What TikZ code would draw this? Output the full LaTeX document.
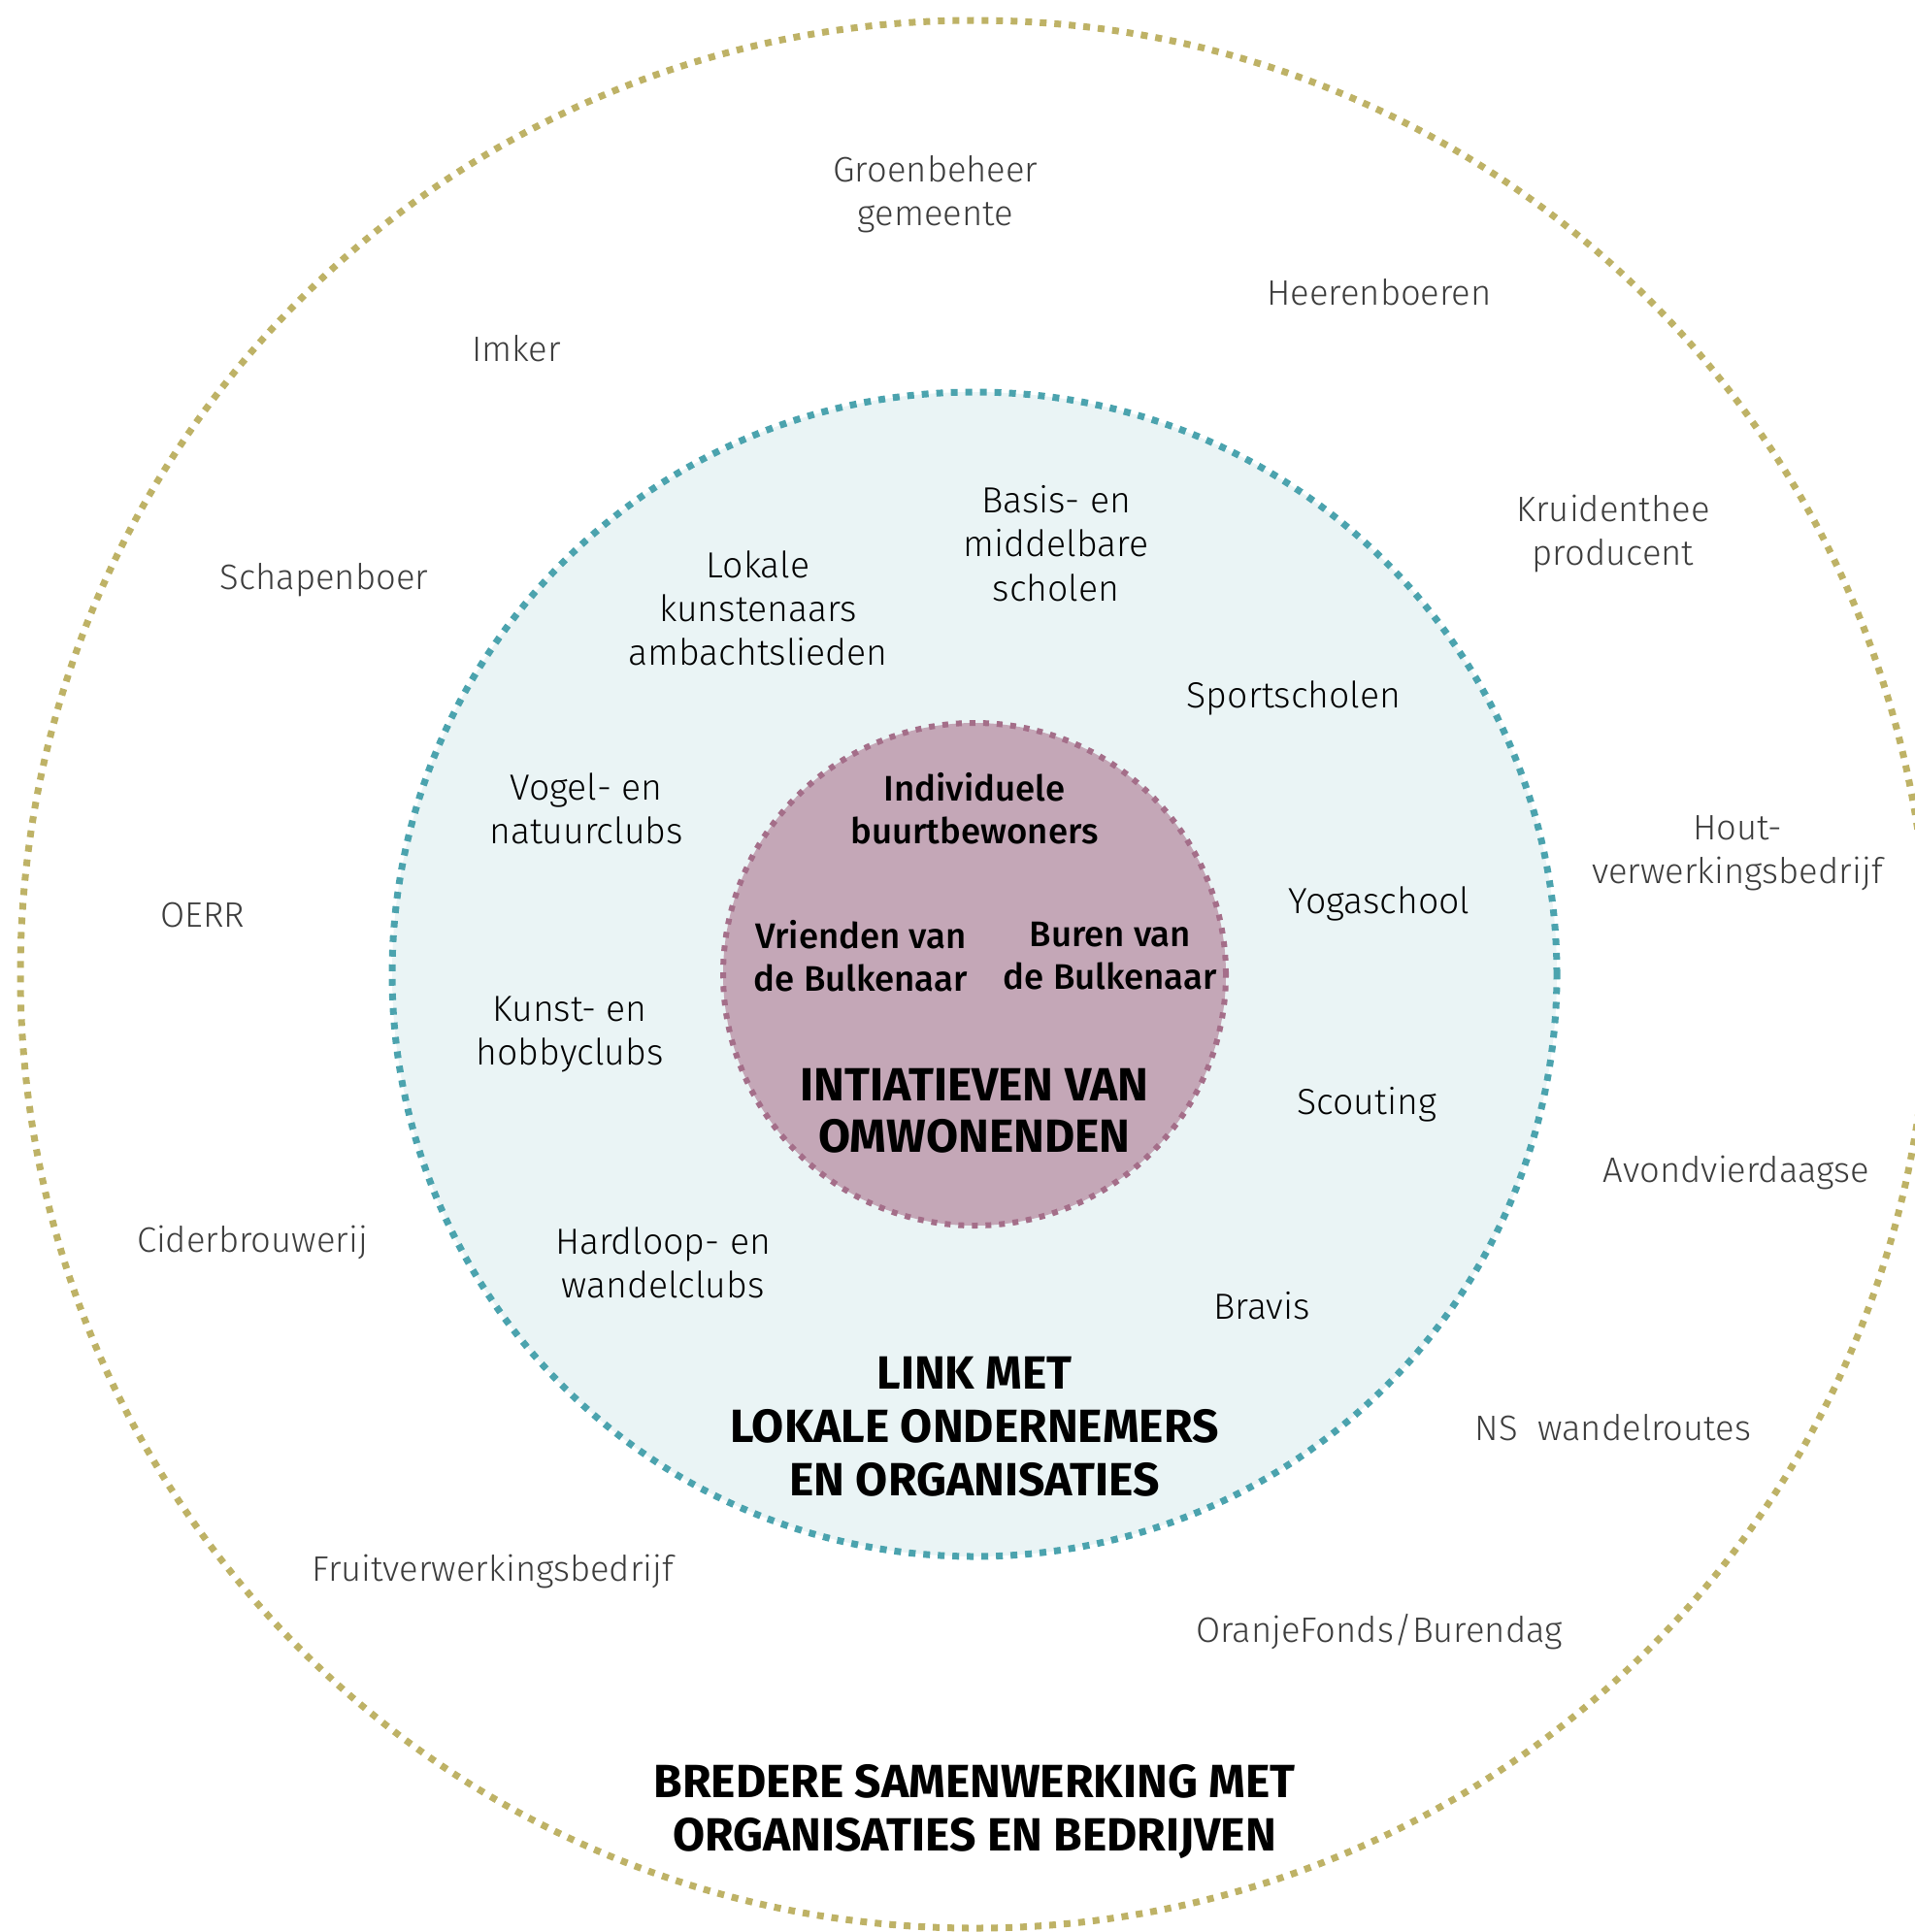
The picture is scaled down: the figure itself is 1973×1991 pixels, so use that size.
\documentclass[tikz,border=0pt]{standalone}
\usepackage{fontspec}
\setmainfont{Fira Sans}
\newfontfamily\lightfont{Fira Sans Light}
\newfontfamily\mediumfont{Fira Sans Medium}
\usetikzlibrary{positioning}
\definecolor{olivedot}{RGB}{190,178,102}
\definecolor{tealdot}{RGB}{75,163,174}
\definecolor{tealfill}{RGB}{234,244,245}
\definecolor{mauvedot}{RGB}{164,110,137}
\definecolor{mauvefill}{RGB}{196,167,183}
\definecolor{outertext}{RGB}{60,60,60}
\tikzset{
  ring/.style     = {circle, draw, line width=3.5pt,
                     dash pattern=on 3.5pt off 4pt, inner sep=0pt},
  partner/.style  = {align=center, text=outertext,
                     font=\lightfont\fontsize{18.2}{22.6}\selectfont},
  member/.style   = {align=center, text=black,
                     font=\lightfont\fontsize{18.7}{22.6}\selectfont},
  resident/.style = {align=center,
                     font=\mediumfont\fontsize{18.3}{22.3}\selectfont},
  heading/.style  = {align=center,
                     font=\bfseries\fontsize{24}{27.5}\selectfont},
}

\begin{document}
\begin{tikzpicture}[x=0.5pt, y=-0.5pt]
  \useasboundingbox (0,0) rectangle (1973,1991);
  \clip (0,0) rectangle (1973,1991);
  \coordinate (c) at (1004,1004);

  % three rings
  \node[ring, draw=olivedot, minimum size=983pt] (outer) at (c) {};
  \node[ring, draw=tealdot, fill=tealfill, minimum size=600pt] (middle) at (c) {};
  \node[ring, draw=mauvedot, fill=mauvefill, line width=3pt,
        dash pattern=on 3pt off 4pt, minimum size=259pt] (inner) at (c) {};

  % outer ring: organisations and companies
  \node[partner] (groen)   at (964,200)   {Groenbeheer\\gemeente};
  \node[partner] (heeren)  at (1421,301)  {Heerenboeren};
  \node[partner] (imker)   at (532,359)   {Imker};
  \node[partner] (kruid)   at (1662,550)  {Kruidenthee\\producent};
  \node[partner] (schaap)  at (334,598)   {Schapenboer};
  \node[partner] (hout)    at (1790,879)  {Hout-\\verwerkingsbedrijf};
  \node[partner] (oerr)    at (209,943)   {OERR};
  \node[partner] (avond)   at (1789,1209) {Avondvierdaagse};
  \node[partner] (cider)   at (260,1280)  {Ciderbrouwerij};
  \node[partner] (ns)      at (1662,1471) {NS\ \ wandelroutes};
  \node[partner] (fruit)   at (508,1620)  {Fruitverwerkingsbedrijf};
  \node[partner] (oranje)  at (1421,1682) {OranjeFonds/Burendag};
  \node[heading] (bredere) at (1004,1867) {BREDERE SAMENWERKING MET\\ORGANISATIES EN BEDRIJVEN};

  % middle ring: local entrepreneurs
  \node[member] (basis)   at (1088,560)  {Basis- en\\middelbare\\scholen};
  \node[member] (lokale)  at (781,627)   {Lokale\\kunstenaars\\ambachtslieden};
  \node[member] (sport)   at (1333,719)  {Sportscholen};
  \node[member] (vogel)   at (604,833)   {Vogel- en\\natuurclubs};
  \node[member] (yoga)    at (1421,931)  {Yogaschool};
  \node[member] (kunst)   at (587,1066)  {Kunst- en\\hobbyclubs};
  \node[member] (scout)   at (1408,1138) {Scouting};
  \node[member] (hard)    at (683,1301)  {Hardloop- en\\wandelclubs};
  \node[member] (bravis)  at (1300,1346) {Bravis};
  \node[heading] (link)   at (1004,1470) {LINK MET\\LOKALE ONDERNEMERS\\EN ORGANISATIES};

  % inner ring: residents
  \node[resident] (indiv)    at (1004,833) {Individuele\\buurtbewoners};
  \node[resident] (vrienden) at (887,985)  {Vrienden van\\de Bulkenaar};
  \node[resident] (buren)    at (1144,985) {Buren van\\de Bulkenaar};
  \node[heading, font=\bfseries\fontsize{24}{26.5}\selectfont] (initiat) at (1004,1145) {INTIATIEVEN VAN\\OMWONENDEN};
\end{tikzpicture}
\end{document}
